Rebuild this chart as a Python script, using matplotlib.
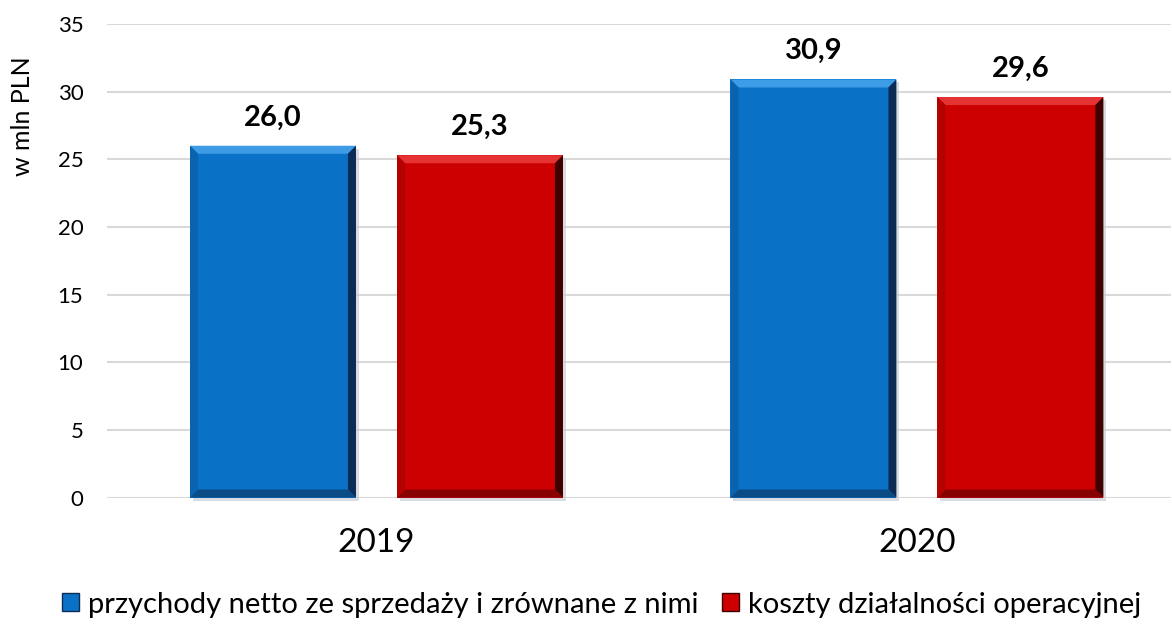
import numpy as np
import matplotlib.pyplot as plt
from matplotlib.patches import Polygon, Patch
from matplotlib.transforms import IdentityTransform

# data
years = ['2019', '2020']
przychody = [26.0, 30.9]
koszty = [25.3, 29.6]
series_labels = ['przychody netto ze sprzedaży i zrównane z nimi',
                 'koszty działalności operacyjnej']
y_ticks = [0, 5, 10, 15, 20, 25, 30, 35]

# colours: main, top light, right dark, bottom dark, left
blue = dict(main='#0A72C6', top='#3E9BE6', right='#0B2D55', bottom='#0C4C86', left='#0A63AE')
red = dict(main='#CC0000', top='#E53232', right='#3F0000', bottom='#880000', left='#B30000')

fam = ['Lato', 'DejaVu Sans']
plt.rcParams['font.family'] = fam

fig = plt.figure(figsize=(11.72, 6.25), dpi=100)
ax = fig.add_axes([0.0913, 0.204, 0.9078, 0.7576])

x = np.arange(len(years))
width = 0.307
offset = 0.1915
bars1 = ax.bar(x - offset, przychody, width, color=blue['main'], zorder=3)
bars2 = ax.bar(x + offset, koszty, width, color=red['main'], zorder=3)

ax.set_xlim(-0.4986, 1.47)
ax.set_ylim(0, 35)
ax.set_yticks(y_ticks)
ax.set_xticks(x)
ax.set_xticklabels(years, fontsize=24)
ax.tick_params(axis='y', length=0, labelsize=16, pad=17)
ax.tick_params(axis='x', length=0, pad=22)
ax.yaxis.grid(True, color='#D9D9D9', linewidth=1.5, zorder=0)
for s in ax.spines.values():
    s.set_visible(False)
ax.set_ylabel('w mln PLN', fontsize=18)
ax.yaxis.set_label_coords(-0.069, 0.805)

for bars in (bars1, bars2):
    for b in bars:
        ax.annotate(f'{b.get_height():.1f}'.replace('.', ','),
                    (b.get_x() + b.get_width() / 2, b.get_height()),
                    xytext=(0, 11), textcoords='offset points',
                    ha='center', va='bottom', fontsize=21, fontweight='bold')

# bevel overlay in pixel space
fig.canvas.draw()
bev = 8
for bars, c in ((bars1, blue), (bars2, red)):
    for b in bars:
        x0, y0, x1, y1 = b.get_window_extent().extents
        polys = [
            ([(x0, y1), (x1, y1), (x1 - bev, y1 - bev), (x0 + bev, y1 - bev)], c['top']),
            ([(x1, y1), (x1, y0), (x1 - bev, y0 + bev), (x1 - bev, y1 - bev)], c['right']),
            ([(x0, y0), (x1, y0), (x1 - bev, y0 + bev), (x0 + bev, y0 + bev)], c['bottom']),
            ([(x0, y0), (x0, y1), (x0 + bev, y1 - bev), (x0 + bev, y0 + bev)], c['left']),
        ]
        for pts, col in polys:
            fig.patches.append(Polygon(pts, closed=True, facecolor=col, edgecolor='none',
                                       transform=IdentityTransform(), figure=fig, zorder=5))
        # soft shadow
        fig.patches.append(Polygon([(x1, y1 - 3), (x1 + 3, y1 - 3), (x1 + 3, y0 - 3), (x0 + 3, y0 - 3), (x0 + 3, y0), (x1, y0)],
                                   closed=True, facecolor='#C9CED6', edgecolor='none', alpha=0.7,
                                   transform=IdentityTransform(), figure=fig, zorder=1))

handles = [Patch(facecolor=blue['main'], edgecolor=blue['right']),
           Patch(facecolor=red['main'], edgecolor=red['right'])]
fig.legend(handles, series_labels, loc='lower center', bbox_to_anchor=(0.513, -0.03),
           ncol=2, frameon=False, prop={'family': fam, 'size': 21},
           handlelength=0.6, handleheight=0.6, handletextpad=0.3, columnspacing=0.8)

fig.savefig('out.png', dpi=100)
